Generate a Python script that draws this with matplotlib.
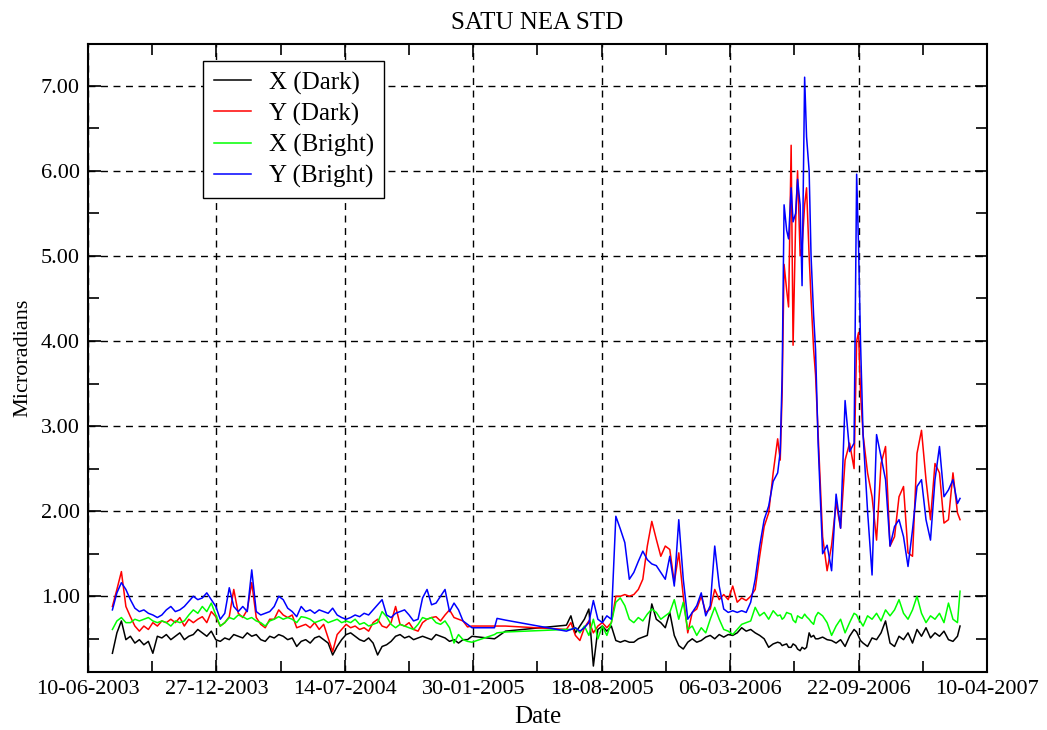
import matplotlib
matplotlib.use("Agg")
import matplotlib.pyplot as plt
import numpy as np
import pandas as pd

plt.rcParams['font.family'] = ['Liberation Serif', 'DejaVu Serif']

#
# SATU NEA STD (microradians)
# days are offsets from 10-06-2003
#
start = pd.Timestamp('2003-06-10')

days = np.concatenate([
    np.arange(38, 592, 7),                 # dense part 2003-2005
    [598, 633, 637, 650, 745],             # sparse stretch in 2005
    np.arange(752, 1117, 7), [1119],
    np.arange(1123, 1355, 7), [1358],
])

x_dark = [
    0.33, 0.57, 0.71, 0.49, 0.53, 0.45, 0.49, 0.43, 0.47, 0.33, 0.53, 0.51, 0.55, 0.49, 0.53, 0.57, 0.49, 0.53, 0.55, 0.61,
    0.57, 0.53, 0.59, 0.49, 0.47, 0.51, 0.49, 0.55, 0.53, 0.51, 0.57, 0.53, 0.55, 0.49, 0.47, 0.53, 0.51, 0.55, 0.53, 0.49,
    0.51, 0.41, 0.47, 0.49, 0.45, 0.51, 0.53, 0.49, 0.45, 0.31, 0.41, 0.49, 0.55, 0.57, 0.53, 0.49, 0.47, 0.51, 0.45, 0.31,
    0.41, 0.43, 0.47, 0.53, 0.55, 0.51, 0.53, 0.49, 0.51, 0.53, 0.51, 0.49, 0.55, 0.53, 0.51, 0.47, 0.49, 0.45, 0.49, 0.49,
    0.53, 0.50, 0.52, 0.59, 0.66,
    0.77, 0.57, 0.65, 0.73, 0.85, 0.18, 0.61, 0.65, 0.59, 0.65, 0.48, 0.46, 0.48, 0.46, 0.46, 0.50, 0.52, 0.54, 0.91, 0.73,
    0.69, 0.63,
    0.81, 0.54, 0.42, 0.38, 0.46, 0.50, 0.46, 0.48, 0.52, 0.54, 0.50, 0.55, 0.52, 0.55, 0.54, 0.57, 0.63, 0.59, 0.61, 0.57,
    0.54, 0.50, 0.40,
    0.44, 0.46, 0.42, 0.44, 0.40, 0.42, 0.36, 0.38,
    0.40,
    0.57, 0.54, 0.50, 0.52, 0.49, 0.48, 0.45, 0.49, 0.41, 0.53, 0.61, 0.53,
    0.45, 0.41, 0.51, 0.49, 0.57, 0.71, 0.45, 0.41, 0.53, 0.49, 0.57, 0.45, 0.61, 0.53, 0.63, 0.51, 0.57, 0.53, 0.59, 0.49,
    0.47, 0.53,
    0.65,
]

y_dark = [
    0.88, 1.08, 1.29, 0.88, 0.76, 0.65, 0.59, 0.65, 0.61, 0.69, 0.65, 0.71, 0.69, 0.73, 0.69, 0.75, 0.65, 0.73, 0.69, 0.73,
    0.76, 0.69, 0.82, 0.76, 0.65, 0.69, 0.76, 1.08, 0.80, 0.75, 0.84, 1.16, 0.75, 0.67, 0.63, 0.73, 0.73, 0.84, 0.78, 0.75,
    0.78, 0.63, 0.65, 0.67, 0.63, 0.69, 0.61, 0.67, 0.51, 0.35, 0.55, 0.61, 0.67, 0.63, 0.65, 0.61, 0.63, 0.59, 0.69, 0.73,
    0.65, 0.63, 0.69, 0.88, 0.67, 0.65, 0.69, 0.61, 0.59, 0.69, 0.73, 0.75, 0.76, 0.71, 0.78, 0.84, 0.75, 0.73, 0.71, 0.64,
    0.65, 0.65, 0.65, 0.65, 0.61,
    0.69, 0.54, 0.48, 0.63, 0.71, 0.57, 0.65, 0.69, 0.63, 0.69, 1.00, 1.00, 1.02, 1.00, 1.02, 1.08, 1.20, 1.59, 1.88, 1.67,
    1.47, 1.59,
    1.55, 1.16, 1.51, 1.00, 0.57, 0.81, 0.85, 1.00, 0.81, 0.85, 1.08, 0.96, 1.02, 0.96, 1.12, 0.93, 0.98, 0.95, 1.00, 1.08,
    1.47, 1.82, 1.98,
    2.45, 2.85, 3.40, 4.60, 6.30, 5.40, 5.00, 5.60,
    5.80,
    5.00, 3.90, 2.90, 1.70, 1.30, 1.60, 2.10, 1.80, 2.60, 2.80, 2.50, 4.10,
    2.90, 2.45, 2.17, 1.66, 2.56, 2.76, 1.59, 1.70, 2.17, 2.29, 1.51, 1.47, 2.68, 2.95, 2.37, 1.90, 2.56, 2.45, 1.86, 1.90,
    2.45, 1.98,
    1.90,
]

x_bright = [
    0.61, 0.71, 0.75, 0.69, 0.69, 0.73, 0.71, 0.73, 0.75, 0.71, 0.69, 0.71, 0.69, 0.65, 0.71, 0.69, 0.71, 0.78, 0.84, 0.80,
    0.88, 0.82, 0.92, 0.78, 0.65, 0.69, 0.75, 0.73, 0.78, 0.76, 0.73, 0.75, 0.71, 0.69, 0.65, 0.71, 0.73, 0.76, 0.73, 0.75,
    0.73, 0.69, 0.76, 0.75, 0.73, 0.69, 0.71, 0.73, 0.69, 0.71, 0.73, 0.69, 0.71, 0.69, 0.73, 0.67, 0.69, 0.65, 0.67, 0.69,
    0.82, 0.76, 0.67, 0.63, 0.67, 0.65, 0.63, 0.61, 0.67, 0.75, 0.73, 0.75, 0.69, 0.67, 0.71, 0.63, 0.45, 0.55, 0.49, 0.47,
    0.46, 0.55, 0.57, 0.58, 0.61,
    0.61, 0.63, 0.57, 0.65, 0.54, 0.73, 0.50, 0.65, 0.54, 0.69, 0.93, 0.98, 0.89, 0.73, 0.69, 0.75, 0.71, 0.79, 0.85, 0.81,
    0.73, 0.77,
    0.81, 0.96, 0.73, 0.93, 0.61, 0.65, 0.54, 0.63, 0.57, 0.73, 0.87, 0.73, 0.61, 0.59, 0.55, 0.61, 0.67, 0.69, 0.71, 0.87,
    0.77, 0.81, 0.73,
    0.83, 0.77, 0.73, 0.81, 0.79, 0.69, 0.75, 0.79,
    0.76,
    0.73, 0.67, 0.81, 0.77, 0.69, 0.54, 0.65, 0.73, 0.57, 0.69, 0.80, 0.73,
    0.65, 0.77, 0.73, 0.80, 0.71, 0.84, 0.77, 0.84, 0.96, 0.80, 0.73, 0.84, 1.00, 0.80, 0.69, 0.77, 0.73, 0.80, 0.69, 0.92,
    0.73, 0.69,
    1.06,
]

y_bright = [
    0.84, 1.04, 1.16, 1.08, 0.96, 0.86, 0.82, 0.84, 0.80, 0.78, 0.75, 0.78, 0.84, 0.88, 0.82, 0.84, 0.88, 0.94, 1.00, 0.96,
    0.98, 1.04, 0.96, 0.88, 0.73, 0.80, 1.10, 0.88, 0.82, 0.88, 0.82, 1.31, 0.82, 0.78, 0.80, 0.82, 0.88, 1.00, 0.96, 0.86,
    0.82, 0.76, 0.88, 0.82, 0.84, 0.80, 0.84, 0.82, 0.80, 0.86, 0.78, 0.75, 0.73, 0.75, 0.78, 0.76, 0.80, 0.78, 0.84, 0.90,
    0.96, 0.78, 0.75, 0.80, 0.82, 0.84, 0.78, 0.71, 0.73, 0.98, 1.08, 0.90, 0.92, 1.00, 1.08, 0.82, 0.92, 0.84, 0.71, 0.67,
    0.63, 0.63, 0.74, 0.72, 0.59,
    0.61, 0.63, 0.59, 0.63, 0.69, 0.95, 0.73, 0.69, 0.77, 0.73, 1.94, 1.79, 1.63, 1.20, 1.28, 1.41, 1.53, 1.43, 1.38, 1.36,
    1.28, 1.20,
    1.47, 1.12, 1.90, 1.20, 0.73, 0.81, 0.89, 1.04, 0.77, 0.89, 1.59, 1.12, 0.85, 0.81, 0.83, 0.81, 0.83, 0.81, 0.93, 1.20,
    1.59, 1.90, 2.06,
    2.35, 2.45, 3.60, 5.30, 5.80, 5.50, 5.60, 7.10,
    6.40,
    6.00, 4.30, 2.80, 1.50, 1.60, 1.30, 2.20, 1.80, 3.30, 2.70, 2.80, 5.10,
    2.90, 2.00, 1.25, 2.90, 2.64, 2.37, 1.59, 1.82, 1.90, 1.70, 1.35, 1.78, 2.29, 2.37, 1.90, 1.66, 2.37, 2.76, 2.17, 2.25,
    2.37, 2.09,
    2.15,
]

# extra readings in the busy stretch of 2006
days_extra = [1078, 1084, 1091, 1098, 1105, 1112, 1126, 1133, 1197, 1203]
x_dark_extra = [0.45, 0.43, 0.40, 0.44, 0.38, 0.40, 0.52, 0.50, 0.58, 0.48]
y_dark_extra = [2.60, 4.90, 4.40, 3.95, 6.00, 5.10, 4.50, 3.60, 4.00, 3.40]
x_bright_extra = [0.78, 0.75, 0.80, 0.72, 0.77, 0.74, 0.70, 0.76, 0.78, 0.70]
y_bright_extra = [2.70, 5.60, 5.20, 5.40, 5.90, 4.65, 5.00, 3.90, 5.96, 4.00]

tick_labels = ['10-06-2003', '27-12-2003', '14-07-2004', '30-01-2005',
               '18-08-2005', '06-03-2006', '22-09-2006', '10-04-2007']

df = pd.DataFrame({
    'day': np.concatenate([days, days_extra]),
    'x_dark': x_dark + x_dark_extra,
    'y_dark': y_dark + y_dark_extra,
    'x_bright': x_bright + x_bright_extra,
    'y_bright': y_bright + y_bright_extra,
}).sort_values('day')
df['date'] = start + pd.to_timedelta(df['day'], unit='D')

ticks = pd.to_datetime(tick_labels, format='%d-%m-%Y')

fig = plt.figure(figsize=(10.47, 7.30), dpi=100)
ax = fig.add_axes([88/1047, 1 - 672/730, 899/1047, 628/730])

lw = 1.1
ax.plot(df['date'], df['x_dark'], color='black', lw=lw, label='X (Dark)')
ax.plot(df['date'], df['y_dark'], color='#ff0000', lw=lw, label='Y (Dark)')
ax.plot(df['date'], df['x_bright'], color='#00ff00', lw=lw, label='X (Bright)')
ax.plot(df['date'], df['y_bright'], color='#0000ff', lw=lw, label='Y (Bright)')

ax.set_xlim(ticks[0], ticks[-1])
ax.set_ylim(0.11, 7.49)
ax.set_xticks(ticks)
ax.set_xticklabels(tick_labels)
ax.set_xticks(ticks[:-1] + pd.Timedelta(days=100), minor=True)
ax.set_yticks(np.arange(1, 8))
ax.set_yticklabels(['%.2f' % v for v in range(1, 8)])
ax.set_yticks(np.arange(0.5, 7.5, 1.0), minor=True)

ax.grid(True, which='major', color='black', linestyle=(0, (5, 4)), lw=1.0)
ax.tick_params(which='both', direction='in', top=True, right=True,
               labelsize=16, width=1.2, pad=6)
ax.tick_params(which='major', length=9)
ax.tick_params(which='minor', length=8)
for s in ax.spines.values():
    s.set_linewidth(1.5)

ax.set_title('SATU NEA STD', fontsize=18, pad=11)
ax.set_xlabel('Date', fontsize=18, labelpad=5)
ax.set_ylabel('Microradians', fontsize=16, labelpad=6)

leg = ax.legend(loc='upper left', bbox_to_anchor=(0.128, 0.973), borderaxespad=0,
                fontsize=18, fancybox=False, edgecolor='black', framealpha=1,
                handlelength=1.5, handletextpad=0.7, labelspacing=0.32, borderpad=0.42)
leg.get_frame().set_linewidth(1.0)

fig.savefig('out.png', dpi=100)
